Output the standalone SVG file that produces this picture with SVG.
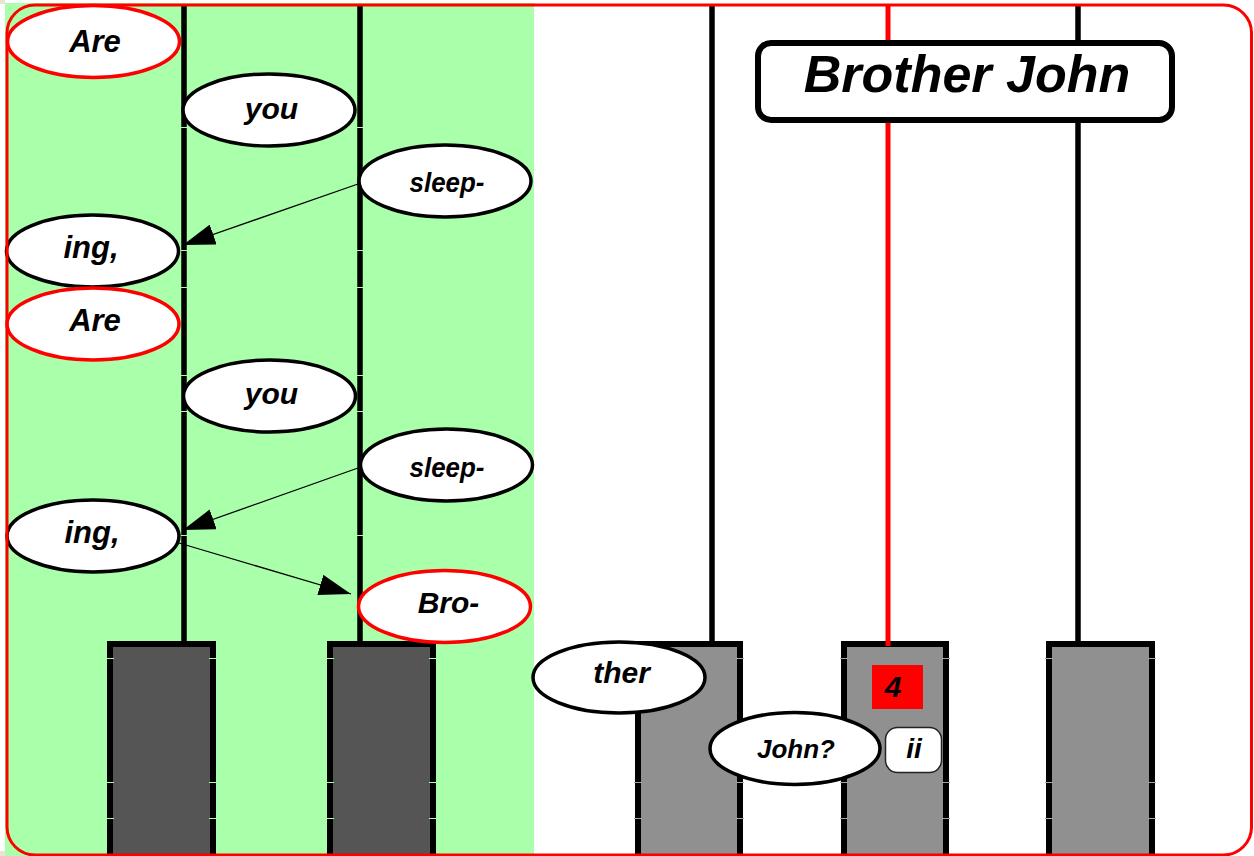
<svg xmlns="http://www.w3.org/2000/svg" width="1254" height="856" viewBox="0 0 1254 856">
<style>
.lbl{font-family:"Liberation Sans",Arial,sans-serif;font-weight:bold;font-style:italic;fill:#000;text-anchor:middle}
.ell{fill:#fff;stroke:#000;stroke-width:3.5}
.ellr{fill:#fff;stroke:#f00;stroke-width:3.5}
.vl{stroke:#000;stroke-width:5.5;fill:none}
.kd{fill:#555;stroke:#000;stroke-width:6}
.kg{fill:#909090;stroke:#000;stroke-width:6}
.gapg{stroke:#aaffaa;stroke-width:1}
.gapw{stroke:#a8a8a8;stroke-width:1}
.conn{stroke:#000;stroke-width:1.3;fill:none;marker-end:url(#ah)}
</style>
<defs>
<marker id="ah" markerUnits="userSpaceOnUse" markerWidth="32" markerHeight="21" refX="32" refY="10.5" orient="auto">
<path d="M0,0 L32,10.5 L0,21 z" fill="#000"/>
</marker>
</defs>
<rect x="0" y="0" width="1254" height="856" fill="#fff"/>
<rect x="5" y="3" width="529" height="853" fill="#aaffaa"/>
<rect x="0" y="0" width="5" height="4" fill="#e8e6d0"/>
<rect x="0" y="851" width="5" height="5" fill="#e8e6d0"/>

<g id="staff-lines">
<line class="vl" x1="184" y1="6" x2="184" y2="642"/>
<line class="vl" x1="360" y1="6" x2="360" y2="642"/>
<line class="vl" x1="712" y1="6" x2="712" y2="642"/>
<line class="vl" x1="1078" y1="6" x2="1078" y2="642"/>
</g>

<g id="keys">
<rect class="kd" x="110" y="644" width="103" height="220"/>
<rect class="kd" x="330" y="644" width="103" height="220"/>
<rect class="kg" x="638" y="644" width="102" height="220"/>
<rect class="kg" x="844" y="644" width="102" height="220"/>
<rect class="kg" x="1049" y="644" width="103" height="220"/>
</g>
<line id="red-line" x1="888" y1="6" x2="888" y2="646" stroke="#f00" stroke-width="5"/>

<g id="gaps">
<path class="gapg" d="M181,127.5h6M181,250.5h6M181,287.5h6M181,375.5h6M181,411.5h6M181,535.5h6M357,127.5h6M357,250.5h6M357,287.5h6M357,375.5h6M357,411.5h6M357,535.5h6"/>
<path class="gapg" d="M106,658.5h8M209,658.5h8M106,782.5h8M209,782.5h8M106,818.5h8M209,818.5h8M326,658.5h8M429,658.5h8M326,782.5h8M429,782.5h8M326,818.5h8M429,818.5h8"/>
<path class="gapw" d="M634,658.5h8M736,658.5h8M634,782.5h8M736,782.5h8M634,818.5h8M736,818.5h8M840,658.5h8M942,658.5h8M840,782.5h8M942,782.5h8M840,818.5h8M942,818.5h8M1045,658.5h8M1148,658.5h8M1045,782.5h8M1148,782.5h8M1045,818.5h8M1148,818.5h8"/>
</g>

<g id="connectors">
<line class="conn" x1="358" y1="184" x2="183" y2="245"/>
<line class="conn" x1="358" y1="468" x2="183" y2="530"/>
<line class="conn" x1="179" y1="543" x2="351" y2="594"/>
</g>

<g id="n-are1"><ellipse class="ellr" cx="93.5" cy="41.5" rx="86" ry="36"/><text class="lbl" x="95" y="52" font-size="31">Are</text></g>
<g id="n-you1"><ellipse class="ell" cx="269" cy="110" rx="86" ry="36"/><text class="lbl" x="271.5" y="119" font-size="30">you</text></g>
<g id="n-sleep1"><ellipse class="ell" cx="445" cy="181" rx="86" ry="36"/><text class="lbl" x="447" y="192" font-size="27" textLength="75" lengthAdjust="spacingAndGlyphs">sleep-</text></g>
<g id="n-ing1"><ellipse class="ell" cx="92.5" cy="251" rx="86" ry="36"/><text class="lbl" x="91" y="258" font-size="31">ing,</text></g>
<g id="n-are2"><ellipse class="ellr" cx="93" cy="324" rx="86" ry="36"/><text class="lbl" x="95" y="331" font-size="31">Are</text></g>
<g id="n-you2"><ellipse class="ell" cx="269.5" cy="396" rx="86" ry="36"/><text class="lbl" x="271.5" y="404" font-size="30">you</text></g>
<g id="n-sleep2"><ellipse class="ell" cx="446.5" cy="465" rx="86" ry="36"/><text class="lbl" x="447" y="477" font-size="27" textLength="75" lengthAdjust="spacingAndGlyphs">sleep-</text></g>
<g id="n-ing2"><ellipse class="ell" cx="93" cy="536" rx="86" ry="36"/><text class="lbl" x="92" y="543" font-size="31">ing,</text></g>
<g id="n-bro"><ellipse class="ellr" cx="444.5" cy="606.5" rx="86" ry="36"/><text class="lbl" x="448.5" y="613" font-size="30">Bro-</text></g>
<g id="n-ther"><ellipse class="ell" cx="619" cy="677.5" rx="86" ry="35.5"/><text class="lbl" x="621.5" y="683" font-size="30">ther</text></g>
<g id="n-john"><ellipse class="ell" cx="795" cy="748.5" rx="85" ry="36"/><text class="lbl" x="796" y="758" font-size="26">John?</text></g>

<g id="n-four"><rect x="872" y="665" width="51" height="44" fill="#f00"/><text class="lbl" x="893" y="697" font-size="30">4</text></g>
<g id="n-ii"><rect x="885.5" y="727.5" width="56" height="45" rx="12" fill="#fff" stroke="#222" stroke-width="1.5"/><text class="lbl" x="914" y="758" font-size="28">ii</text></g>

<g id="n-title"><rect x="758" y="43" width="414" height="77" rx="13" fill="#fff" stroke="#000" stroke-width="6"/><text class="lbl" x="967" y="92" font-size="52">Brother John</text></g>

<rect id="frame" x="7" y="5" width="1244.5" height="850" rx="28" fill="none" stroke="#f00" stroke-width="3"/>
</svg>
